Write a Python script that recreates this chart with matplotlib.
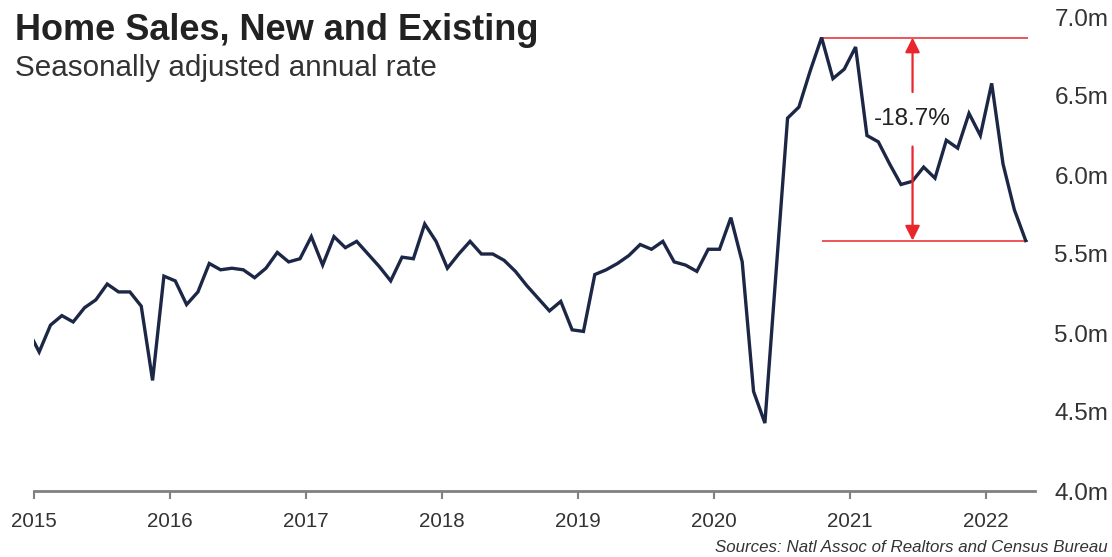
import matplotlib
matplotlib.use("Agg")
import matplotlib.pyplot as plt
import numpy as np

plt.rcParams['font.family'] = ['Liberation Sans', 'DejaVu Sans']

# ---- data (millions, seasonally adjusted annual rate), monthly ----
start_year = 2014
start_month = 12  # first value is Dec 2014 (clipped at left edge)
sales = [
    5.02,
    # 2015
    4.88, 5.05, 5.11, 5.07, 5.16, 5.21, 5.31, 5.26, 5.26, 5.17, 4.70, 5.36,
    # 2016
    5.33, 5.18, 5.26, 5.44, 5.40, 5.41, 5.40, 5.35, 5.41, 5.51, 5.45, 5.47,
    # 2017
    5.61, 5.43, 5.61, 5.54, 5.58, 5.50, 5.42, 5.33, 5.48, 5.47, 5.69, 5.58,
    # 2018
    5.41, 5.50, 5.58, 5.50, 5.50, 5.46, 5.39, 5.30, 5.22, 5.14, 5.20, 5.02,
    # 2019
    5.01, 5.37, 5.40, 5.44, 5.49, 5.56, 5.53, 5.58, 5.45, 5.43, 5.39, 5.53,
    # 2020
    5.53, 5.73, 5.45, 4.63, 4.43, 5.40, 6.36, 6.43, 6.66, 6.87, 6.61, 6.67,
    # 2021
    6.81, 6.25, 6.21, 6.07, 5.94, 5.96, 6.05, 5.98, 6.22, 6.17, 6.39, 6.25,
    # 2022
    6.58, 6.07, 5.78, 5.585,
]
year_ticks = [2015, 2016, 2017, 2018, 2019, 2020, 2021, 2022]
y_ticks = [4.0, 4.5, 5.0, 5.5, 6.0, 6.5, 7.0]
y_labels = ['4.0m', '4.5m', '5.0m', '5.5m', '6.0m', '6.5m', '7.0m']

title = "Home Sales, New and Existing"
subtitle = "Seasonally adjusted annual rate"
source = "Sources: Natl Assoc of Realtors and Census Bureau"

# ---- derived ----
vals = np.array(sales)
months = np.arange(len(vals))
dates = start_year + (start_month - 1 + months + 0.5) / 12.0

NAVY = '#1c2746'
RED = '#e8262b'
GREY = '#808080'
TXT = '#333333'

fig = plt.figure(figsize=(11.12, 5.57), dpi=100)
ax = fig.add_axes([33.5 / 1112, 1 - 491 / 557, (1035 - 33.5) / 1112, (491 - 17) / 557])

ax.plot(dates, vals, color=NAVY, lw=2.4, solid_joinstyle='miter', zorder=3)
ax.set_xlim(2015.0, 2022.36)
ax.set_ylim(4.0, 7.0)

# peak / last reference
ipk = int(np.argmax(vals))
peak, last = vals[ipk], vals[-1]
x0, x1 = dates[ipk], dates[-1] + 0.02
ax.hlines([peak, last], x0, x1, color=RED, lw=1.1, zorder=2)
pct = (last / peak - 1) * 100
xa = 2021.46
ytxt = 6.355
ax.annotate('', xy=(xa, peak), xytext=(xa, 6.525),
            arrowprops=dict(arrowstyle='-|>', color=RED, lw=1.6, mutation_scale=22,
                            shrinkA=0, shrinkB=0))
ax.annotate('', xy=(xa, last), xytext=(xa, 6.18),
            arrowprops=dict(arrowstyle='-|>', color=RED, lw=1.6, mutation_scale=22,
                            shrinkA=0, shrinkB=0))
ax.text(xa, ytxt, f"{pct:.1f}%", ha='center', va='center', fontsize=17.5, color='#222222')

# axes styling
for s in ['top', 'left', 'right']:
    ax.spines[s].set_visible(False)
ax.spines['bottom'].set_color(GREY)
ax.spines['bottom'].set_linewidth(2.0)
ax.set_xticks(year_ticks)
ax.set_xticklabels([str(y) for y in year_ticks])
ax.tick_params(axis='x', direction='out', length=6, width=1.5, color=GREY,
               labelsize=14.8, labelcolor=TXT, pad=9)
ax.yaxis.tick_right()
ax.set_yticks(y_ticks)
ax.set_yticklabels(y_labels)
ax.tick_params(axis='y', length=0, labelsize=17.5, labelcolor=TXT, pad=14)
ax.patch.set_alpha(0)

fig.text(15 / 1112, 1 - 40 / 557, title, fontsize=26, fontweight='bold',
         color='#222222', ha='left', va='baseline')
fig.text(15 / 1112, 1 - 76 / 557, subtitle, fontsize=21.3,
         color=TXT, ha='left', va='baseline')
fig.text(1108 / 1112, 1 - 552 / 557, source, fontsize=12.2, style='italic',
         color=TXT, ha='right', va='baseline')

fig.savefig('out.png', dpi=100, facecolor='white')
